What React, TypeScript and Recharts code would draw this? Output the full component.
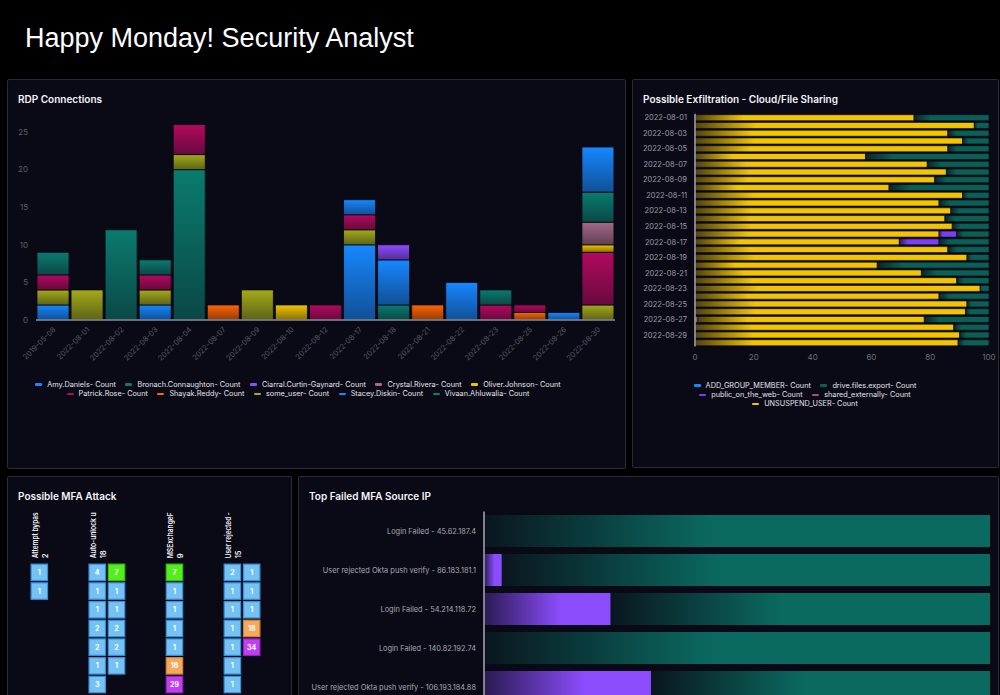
import React from 'react';
import { BarChart, Bar, XAxis, YAxis, ScatterChart, Scatter } from 'recharts';

const FONT = 'Inter, "Noto Sans", sans-serif';

// ---- RDP Connections ----
const rdpDates = [
  '2019-05-08', '2022-08-01', '2022-08-02', '2022-08-03', '2022-08-04', '2022-08-07',
  '2022-08-09', '2022-08-10', '2022-08-12', '2022-08-17', '2022-08-18', '2022-08-21',
  '2022-08-22', '2022-08-23', '2022-08-25', '2022-08-26', '2022-08-30',
];
const rdpUsers = [
  'Amy.Daniels', 'Bronach.Connaughton', 'Ciarral.Curtin-Gaynard', 'Crystal.Rivera', 'Oliver.Johnson',
  'Patrick.Rose', 'Shayak.Reddy', 'some_user', 'Stacey.Diskin', 'Vivaan.Ahluwalia',
];
const rdpColors = [
  '#1688ff', '#0a7b6e', '#8d4dff', '#a46a88', '#f2c400',
  '#b3095f', '#ff6500', '#a3ab19', '#1688ff', '#0a7b6e',
];
const amyDaniels = [0, 0, 0, 0, 0, 0, 0, 0, 0, 2, 0, 0, 0, 0, 0, 0, 6];
const bronachConnaughton = [3, 0, 0, 2, 0, 0, 0, 0, 0, 0, 0, 0, 0, 2, 0, 0, 4];
const ciarralCurtinGaynard = [0, 0, 0, 0, 0, 0, 0, 0, 0, 0, 2, 0, 0, 0, 0, 0, 0];
const crystalRivera = [0, 0, 0, 0, 0, 0, 0, 0, 0, 0, 0, 0, 0, 0, 0, 0, 3];
const oliverJohnson = [0, 0, 0, 0, 0, 0, 0, 2, 0, 0, 0, 0, 0, 0, 0, 0, 1];
const patrickRose = [2, 0, 0, 2, 4, 0, 0, 0, 2, 2, 0, 0, 0, 2, 1, 0, 7];
const shayakReddy = [0, 0, 0, 0, 0, 2, 0, 0, 0, 0, 0, 2, 0, 0, 1, 0, 0];
const someUser = [2, 4, 0, 2, 2, 0, 4, 0, 0, 2, 0, 0, 0, 0, 0, 0, 2];
const staceyDiskin = [2, 0, 0, 2, 0, 0, 0, 0, 0, 10, 6, 0, 5, 0, 0, 1, 0];
const vivaanAhluwalia = [0, 0, 12, 0, 20, 0, 0, 0, 0, 0, 2, 0, 0, 0, 0, 0, 0];
const rdpSeries = [
  amyDaniels, bronachConnaughton, ciarralCurtinGaynard, crystalRivera, oliverJohnson,
  patrickRose, shayakReddy, someUser, staceyDiskin, vivaanAhluwalia,
];
const rdpTicks = [0, 5, 10, 15, 20, 25];
const rdpLegendRows = [5, 5];

// ---- Possible Exfiltration ----
const exfDates = Array.from({ length: 30 }, (_, i) => `2022-08-${String(i + 1).padStart(2, '0')}`);
const exfSeries = ['ADD_GROUP_MEMBER', 'drive.files.export', 'public_on_the_web', 'shared_externally', 'UNSUSPEND_USER'];
const exfColors = ['#1688ff', '#0a5f57', '#7c3ff0', '#a8507a', '#f2c500'];
const addGroupMember = Array(30).fill(0);
const unsuspendUser = [
  74.5, 95, 86, 91, 86, 58, 79, 85.5, 81.5, 66,
  91, 83, 87, 85, 87.5, 83, 69.5, 86, 92.5, 62,
  77, 89, 97, 83, 92.5, 92, 77, 88, 90, 89.5,
];
const publicOnTheWeb = [
  0, 0, 0, 0, 0, 0, 0, 0, 0, 0,
  0, 0, 0, 0, 0, 6, 13.5, 0, 0, 0,
  0, 0, 0, 0, 0, 0, 0, 0, 0, 0,
];
const sharedExternally = [
  0, 0, 0, 0, 0, 0, 0, 0, 0, 0,
  0, 0, 0, 0, 0, 0, 0, 0, 0, 0,
  0, 0, 0, 0, 0, 0, 1, 0, 0, 0,
];
const driveFilesExport = [
  25.5, 5, 14, 9, 14, 42, 21, 14.5, 18.5, 34,
  9, 17, 13, 15, 12.5, 11, 17, 14, 7.5, 38,
  23, 11, 3, 17, 7.5, 8, 22, 12, 10, 10.5,
];
const exfValues = [addGroupMember, driveFilesExport, publicOnTheWeb, sharedExternally, unsuspendUser];
// left-to-right stacking order
const exfStackOrder = [3, 4, 2, 1, 0];
const exfTicks = [0, 20, 40, 60, 80, 100];
const exfLegendRows = [2, 2, 1];

// ---- Possible MFA Attack ----
const mfaLabels = ['Attempt bypas', 'Auto-unlock u', 'MSExchangeF', 'User rejected -'];
const mfaCounts = [2, 18, 9, 15];
const attemptBypass = [[1], [1]];
const autoUnlock = [[4, 7], [1, 1], [1, 1], [2, 2], [2, 2], [1, 1], [3]];
const msExchange = [[7], [1], [1], [1], [1], [18], [29]];
const userRejected = [[2, 1], [1, 1], [1, 1], [1, 18], [1, 34], [1], [1]];
const mfaColumnTiles = [attemptBypass, autoUnlock, msExchange, userRejected];
const mfaColX = [0, 3, 7, 10];

// ---- Top Failed MFA Source IP ----
const failedSources = [
  'Login Failed - 45.62.187.4',
  'User rejected Okta push verify - 86.183.181.1',
  'Login Failed - 54.214.118.72',
  'Login Failed - 140.82.192.74',
  'User rejected Okta push verify - 106.193.184.88',
];
const rejectedShare = [0, 3.5, 25, 0, 33];
const failedShare = [100, 96.5, 75, 100, 67];

const rdpData = rdpDates.map((date, i) => {
  const row: Record<string, number | string> = { date };
  rdpUsers.forEach((u, k) => { row[u] = rdpSeries[k][i]; });
  return row;
});

const exfData = exfDates.map((date, i) => {
  const row: Record<string, number | string> = { date };
  exfSeries.forEach((s, k) => { row[s] = exfValues[k][i]; });
  return row;
});

const mfaPoints = mfaColumnTiles.flatMap((rows, c) =>
  rows.flatMap((row, r) => row.map((value, s) => ({ x: mfaColX[c] + s, y: r, value }))),
);

const failedData = failedSources.map((source, i) => ({
  source, rejected: rejectedShare[i], failed: failedShare[i],
}));

function Panel({ left, top, width, height, title, children }: any) {
  return (
    <div
      style={{
        position: 'absolute', left, top, width, height, boxSizing: 'border-box',
        border: '1px solid #2b2b37', borderRadius: 2, background: '#0a0a16', overflow: 'hidden',
      }}
    >
      <div
        style={{
          position: 'absolute', left: 10, top: 13, fontSize: 10, fontWeight: 600,
          color: '#f4f4f6', lineHeight: '12px', whiteSpace: 'nowrap',
        }}
      >
        {title}
      </div>
      {children}
    </div>
  );
}

// legend split into fixed rows, each row centred
function LegendBlock({ names, colors, rows, left, top, width }: any) {
  let start = 0;
  const groups = rows.map((n: number) => {
    const idx = names.map((_: string, i: number) => i).slice(start, start + n);
    start += n;
    return idx;
  });
  return (
    <div style={{ position: 'absolute', left, top, width, fontSize: 7.3, lineHeight: '9.2px', color: '#e4e4ea' }}>
      {groups.map((g: number[], r: number) => (
        <div key={r} style={{ display: 'flex', justifyContent: 'center', columnGap: 9.5 }}>
          {g.map((i) => (
            <span key={names[i]} style={{ display: 'inline-flex', alignItems: 'center', whiteSpace: 'nowrap' }}>
              <span style={{ width: 7, height: 2.5, borderRadius: 1, background: colors[i], marginRight: 5 }} />
              {names[i]}- Count
            </span>
          ))}
        </div>
      ))}
    </div>
  );
}

const RotatedTick = ({ x, y, payload }: any) => (
  <text
    x={x + 3}
    y={y + 2}
    transform={`rotate(-45 ${x + 3} ${y + 2})`}
    textAnchor="end"
    fill="#555964"
    fontSize={7.5}
  >
    {payload.value}
  </text>
);

const SourceTick = ({ x, y, payload }: any) => (
  <text x={x} y={y} textAnchor="end" dominantBaseline="central" fill="#a8a8b4" fontSize={7.4}>
    {payload.value}
  </text>
);

const tileColor = (v: number) => {
  if (v >= 25) return { fill: '#c13ff0', stroke: '#9128c4' };
  if (v >= 10) return { fill: '#f4a95e', stroke: '#d0843a' };
  if (v >= 5) return { fill: '#52ef1c', stroke: '#3bbf12' };
  return { fill: '#73c2f3', stroke: '#3e8fd6' };
};

const MfaTile = ({ cx, cy, payload }: any) => {
  const c = tileColor(payload.value);
  return (
    <g>
      <rect x={cx - 8.2} y={cy - 8.2} width={16.4} height={16.4} fill={c.fill} stroke={c.stroke} strokeWidth={1.2} />
      <text x={cx} y={cy} textAnchor="middle" dominantBaseline="central" fill="#fff" fontSize={7} fontWeight={700}>
        {payload.value}
      </text>
    </g>
  );
};

// header y (chart coords) where the rotated labels start
const MFA_HEADER_BASE = 55.3;

const MfaHeader = ({ x, payload }: any) => {
  const i = mfaColX.indexOf(payload.value);
  return (
    <g fill="#f4f4f6" fontSize={7.5} fontWeight={600}>
      <text
        transform={`translate(${x - 4} ${MFA_HEADER_BASE}) rotate(-90)`}
        dominantBaseline="central"
        textLength={46}
        lengthAdjust="spacingAndGlyphs"
      >
        {mfaLabels[i]}
      </text>
      <text transform={`translate(${x + 6.5} ${MFA_HEADER_BASE}) rotate(-90)`} dominantBaseline="central">
        {mfaCounts[i]}
      </text>
    </g>
  );
};

export default function App() {
  return (
    <div
      style={{
        position: 'fixed', left: 0, top: 0, width: 1000, height: 695, overflow: 'hidden',
        background: '#000', fontFamily: FONT,
      }}
    >
      <div
        style={{
          position: 'absolute', left: 25, top: 25, fontSize: 27, lineHeight: '27px',
          color: '#fff', fontFamily: '"Liberation Sans", Arial, sans-serif', whiteSpace: 'nowrap',
        }}
      >
        Happy Monday! Security Analyst
      </div>

      <Panel left={7} top={79} width={619} height={390} title="RDP Connections">
        <div style={{ position: 'absolute', left: 0, top: 0 }}>
          <BarChart
            width={617}
            height={300}
            data={rdpData}
            margin={{ top: 44.5, right: 10, left: 0, bottom: 0 }}
            barCategoryGap={1}
          >
            <defs>
              {rdpColors.map((c, i) => (
                <linearGradient key={i} id={`rdp-${i}`} x1="0" y1="0" x2="0" y2="1">
                  <stop offset="0" stopColor={c} stopOpacity={1} />
                  <stop offset="1" stopColor={c} stopOpacity={0.55} />
                </linearGradient>
              ))}
            </defs>
            <XAxis
              dataKey="date"
              height={60}
              interval={0}
              tickLine={false}
              axisLine={{ stroke: '#8a8f9c', strokeWidth: 1.5 }}
              tick={<RotatedTick />}
            />
            <YAxis
              width={28}
              domain={[0, 26]}
              ticks={rdpTicks}
              axisLine={false}
              tickLine={false}
              tick={{ fill: '#5a5e6a', fontSize: 8 }}
            />
            {rdpUsers.map((u, i) => ({ u, i })).reverse().map(({ u, i }) => (
              <Bar
                key={u}
                dataKey={u}
                stackId="rdp"
                fill={`url(#rdp-${i})`}
                stroke="#07070f"
                strokeWidth={0.8}
                isAnimationActive={false}
              />
            ))}
          </BarChart>
        </div>
        <LegendBlock names={rdpUsers} colors={rdpColors} rows={rdpLegendRows} left={10} top={300} width={560} />
      </Panel>

      <Panel left={632} top={79} width={367} height={389} title="Possible Exfiltration - Cloud/File Sharing">
        <div style={{ position: 'absolute', left: 0, top: 0 }}>
          <BarChart
            layout="vertical"
            width={365}
            height={290}
            data={exfData}
            margin={{ top: 33.8, right: 9, left: 0, bottom: 0 }}
            barCategoryGap={0.9}
          >
            <defs>
              {exfColors.map((c, i) => (
                <linearGradient key={i} id={`exf-${i}`} x1="0" y1="0" x2="1" y2="0">
                  <stop offset="0" stopColor={c} stopOpacity={0.3} />
                  <stop offset="0.22" stopColor={c} stopOpacity={1} />
                  <stop offset="1" stopColor={c} stopOpacity={1} />
                </linearGradient>
              ))}
            </defs>
            <XAxis
              type="number"
              domain={[0, 100]}
              ticks={exfTicks}
              height={23.4}
              axisLine={false}
              tickLine={false}
              tick={{ fill: '#6a6d78', fontSize: 8 }}
            />
            <YAxis
              type="category"
              dataKey="date"
              width={62}
              interval={1}
              tickLine={false}
              axisLine={{ stroke: '#a6a8b2', strokeWidth: 1.5 }}
              tick={{ fill: '#9a9ca8', fontSize: 7.5 }}
            />
            {exfStackOrder.map((k) => (
              <Bar
                key={exfSeries[k]}
                dataKey={exfSeries[k]}
                stackId="exf"
                fill={`url(#exf-${k})`}
                stroke="#07070f"
                strokeWidth={0.6}
                isAnimationActive={false}
              />
            ))}
          </BarChart>
        </div>
        <LegendBlock names={exfSeries} colors={exfColors} rows={exfLegendRows} left={52} top={301} width={240} />
      </Panel>

      <Panel left={7} top={476} width={285} height={230} title="Possible MFA Attack">
        <div style={{ position: 'absolute', left: 12, top: 25.65 }}>
          <ScatterChart width={251} height={209.6} margin={{ top: 0, right: 0, left: 0, bottom: 0 }}>
            <XAxis
              type="number"
              dataKey="x"
              orientation="top"
              domain={[-1, 12]}
              ticks={mfaColX}
              interval={0}
              height={60}
              axisLine={false}
              tickLine={false}
              tick={<MfaHeader />}
            />
            <YAxis type="number" dataKey="y" domain={[-0.5, 7.5]} reversed hide />
            <Scatter data={mfaPoints} shape={<MfaTile />} isAnimationActive={false} />
          </ScatterChart>
        </div>
      </Panel>

      <Panel left={298} top={476} width={701} height={230} title="Top Failed MFA Source IP">
        <div style={{ position: 'absolute', left: 0, top: 0 }}>
          <BarChart
            layout="vertical"
            width={699}
            height={229.5}
            data={failedData}
            margin={{ top: 34.5, right: 8, left: 0, bottom: 0 }}
            barCategoryGap={3.5}
          >
            <defs>
              <linearGradient id="failed-teal" x1="0" y1="0" x2="1" y2="0">
                <stop offset="0" stopColor="#0a6a60" stopOpacity={0.12} />
                <stop offset="0.45" stopColor="#0a6a60" stopOpacity={1} />
                <stop offset="1" stopColor="#0a6a60" stopOpacity={1} />
              </linearGradient>
              <linearGradient id="failed-purple" x1="0" y1="0" x2="1" y2="0">
                <stop offset="0" stopColor="#8a4cfc" stopOpacity={0.25} />
                <stop offset="0.6" stopColor="#8a4cfc" stopOpacity={1} />
                <stop offset="1" stopColor="#8a4cfc" stopOpacity={1} />
              </linearGradient>
            </defs>
            <XAxis type="number" domain={[0, 100]} hide />
            <YAxis
              type="category"
              dataKey="source"
              width={185}
              tickLine={false}
              axisLine={{ stroke: '#a6a8b2', strokeWidth: 1.5 }}
              tick={<SourceTick />}
            />
            <Bar dataKey="rejected" stackId="f" fill="url(#failed-purple)" isAnimationActive={false} />
            <Bar dataKey="failed" stackId="f" fill="url(#failed-teal)" isAnimationActive={false} />
          </BarChart>
        </div>
      </Panel>
    </div>
  );
}
